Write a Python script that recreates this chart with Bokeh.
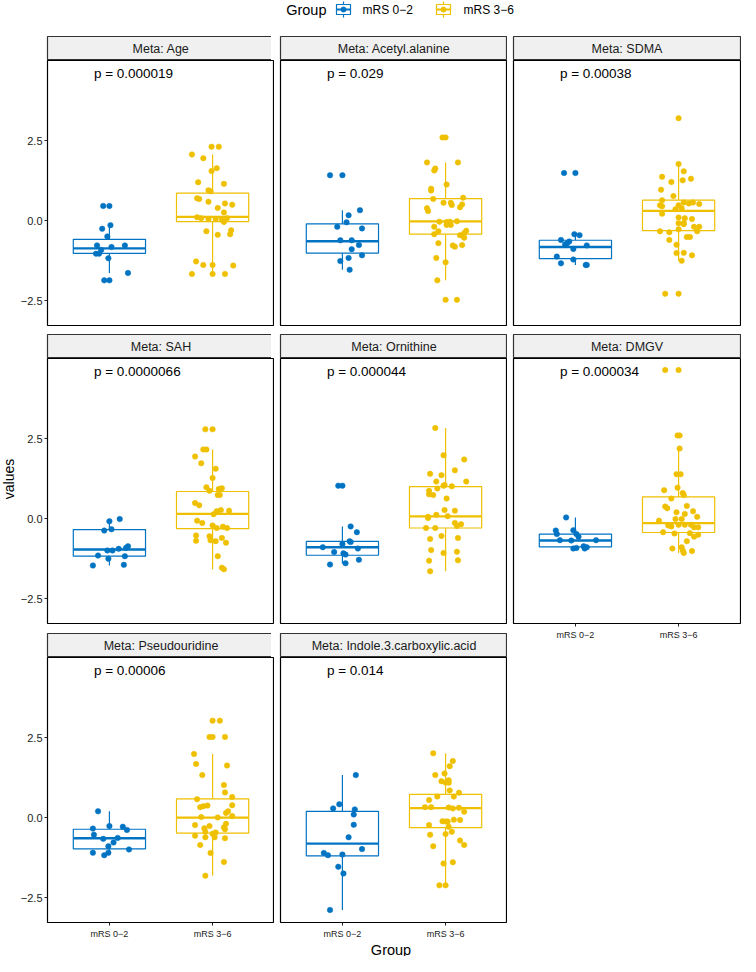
import math
from bokeh.plotting import figure
from bokeh.models import Range1d, FixedTicker
from bokeh.layouts import column, row
from bokeh.core.properties import value
from bokeh.embed import file_html
from bokeh.resources import INLINE

FONT = "Liberation Sans"

# ---------------- data ----------------
groups = ["mRS 0−2", "mRS 3−6"]
colors = ["#0073C2", "#EFC000"]
metabolites = ["Age", "Acetyl.alanine", "SDMA", "SAH", "Ornithine", "DMGV",
               "Pseudouridine", "Indole.3.carboxylic.acid"]
p_values = ["0.000019", "0.029", "0.00038", "0.0000066", "0.000044", "0.000034",
            "0.00006", "0.014"]
y_ticks = [-2.5, 0.0, 2.5]
y_tick_labels = ["−2.5", "0.0", "2.5"]

# box statistics: [lower whisker, Q1, median, Q3, upper whisker]
age_lo_y = [0.46, 0.46, -0.25, -0.14, -0.49, -0.77, -0.82, -0.77, -1.03, -1.03, -0.91, -1.17, -1.63, -1.86, -1.86]
age_lo_jit = [-0.06, 0.00, -0.07, 0.01, -0.02, -0.12, 0.02, 0.15, -0.13, -0.10, -0.08, -0.01, 0.18, -0.05, 0.00]
age_hi_y = [2.31, 2.31, 2.07, 1.95, 1.55, 1.64, 1.20, 1.15, 0.95, 0.92, 0.70, 0.68, 0.59, 0.54, 0.50, 0.40, 0.26, 0.11, 0.08, 0.05,
            0.05, 0.03, 0.08, -0.04, -0.33, -0.44, -0.42, -0.30, -1.27, -1.38, -1.38, -1.40, -1.66, -1.66, -1.66]
age_hi_jit = [-0.01, 0.06, -0.20, -0.09, -0.01, 0.04, -0.14, 0.11, -0.04, -0.02, -0.15, -0.13, -0.04, 0.12, 0.19, 0.05, 0.11, -0.15, -0.11, -0.04,
              0.03, 0.09, 0.14, 0.11, -0.06, 0.05, 0.17, 0.18, -0.16, -0.09, 0.00, 0.20, -0.20, 0.00, 0.12]
age_lo_box = [-1.63, -1.02, -0.86, -0.58, -0.14]
age_hi_box = [-1.66, -0.03, 0.12, 0.86, 2.07]

acetyl_lo_y = [1.42, 1.42, 0.33, 0.17, -0.05, -0.19, -0.24, -0.61, -0.61, -0.76, -0.89, -1.08, -1.26, -1.16, -1.53]
acetyl_lo_jit = [-0.12, 0.00, 0.17, 0.06, 0.04, -0.05, 0.19, -0.02, 0.09, 0.16, 0.09, 0.19, -0.02, 0.06, 0.07]
acetyl_hi_y = [2.60, 2.60, 1.82, 1.63, 1.57, 1.82, 1.13, 1.00, 0.94, 0.68, 0.72, 0.56, 0.56, 0.49, 0.51, 0.42, 0.30, 0.39, -0.03, -0.04,
               -0.13, -0.02, -0.13, -0.03, -0.19, -0.31, -0.39, -0.42, -0.33, -0.45, -0.53, -0.70, -0.77, -0.81, -0.76, -1.16, -1.30, -1.86, -2.47, -2.47]
acetyl_hi_jit = [-0.03, 0.00, -0.18, -0.10, -0.11, 0.12, 0.01, -0.14, -0.14, -0.12, 0.17, -0.02, 0.05, 0.06, 0.16, 0.14, -0.17, -0.18, -0.06, 0.01,
                 0.05, 0.11, 0.01, 0.04, -0.11, 0.20, 0.18, -0.11, -0.07, 0.14, 0.18, -0.07, 0.07, 0.09, 0.16, -0.09, 0.00, -0.08, 0.00, 0.11]
acetyl_lo_box = [-1.53, -1.01, -0.64, -0.10, 0.33]
acetyl_hi_box = [-1.86, -0.42, -0.02, 0.69, 1.82]

sdma_lo_y = [1.49, 1.49, -0.42, -0.45, -0.60, -0.70, -0.74, -0.65, -0.77, -0.88, -1.12, -1.21, -1.33, -1.38, -1.38]
sdma_lo_jit = [-0.11, 0.00, -0.01, 0.04, -0.14, -0.08, -0.10, -0.06, 0.11, -0.02, -0.18, -0.02, -0.14, 0.10, 0.11]
sdma_hi_y = [3.20, 1.77, 1.54, 1.37, 1.21, 1.26, 1.31, 0.97, 0.77, 0.64, 0.57, 0.54, 0.57, 0.52, 0.48, 0.45, 0.48, 0.39, 0.22, 0.36,
             0.10, 0.08, -0.08, -0.07, -0.27, -0.11, 0.05, -0.19, -0.19, -0.33, -0.33, -0.36, -0.51, -0.51, -0.60, -0.75, -1.00, -1.08, -1.01, -1.25,
             -2.28, -2.28]
sdma_hi_jit = [0.00, 0.00, 0.05, -0.16, -0.07, 0.04, 0.12, -0.17, -0.05, -0.16, 0.05, 0.10, 0.14, 0.20, -0.18, -0.16, 0.00, 0.03, -0.16, -0.03,
               0.00, 0.06, 0.00, 0.05, 0.00, 0.05, 0.13, 0.15, 0.20, 0.18, -0.18, -0.09, 0.08, 0.11, -0.09, -0.02, 0.05, 0.13, -0.02, 0.03,
               -0.13, 0.00]
sdma_lo_box = [-1.38, -1.18, -0.82, -0.61, -0.42]
sdma_hi_box = [-1.25, -0.31, 0.31, 0.64, 1.77]

sah_lo_y = [-0.08, -0.01, -0.37, -0.33, -0.86, -0.91, -0.99, -0.99, -0.94, -1.15, -1.17, -1.25, -1.46, -1.44]
sah_lo_jit = [0.00, 0.10, -0.05, 0.02, 0.18, 0.16, -0.02, 0.03, 0.09, -0.11, 0.15, -0.01, -0.16, 0.14]
sah_hi_y = [2.79, 2.79, 2.16, 2.16, 1.94, 1.73, 1.56, 1.27, 0.98, 0.93, 0.95, 0.87, 0.74, 0.74, 0.49, 0.42, 0.23, 0.27, 0.25, 0.14,
            -0.06, -0.13, -0.21, -0.29, -0.25, -0.29, -0.52, -0.69, -0.55, -0.67, -0.70, -0.60, -0.75, -1.17, -1.53, -1.58]
sah_hi_jit = [-0.07, 0.00, -0.09, -0.06, -0.17, -0.11, 0.03, 0.00, -0.06, 0.06, 0.09, -0.03, 0.05, 0.07, -0.17, -0.13, 0.04, 0.08, 0.16, 0.01,
              -0.15, -0.10, 0.00, 0.04, 0.10, 0.14, -0.16, -0.16, -0.03, -0.02, 0.03, 0.09, 0.13, 0.05, 0.09, 0.11]
sah_lo_box = [-1.46, -1.17, -0.96, -0.34, -0.01]
sah_hi_box = [-1.58, -0.31, 0.15, 0.85, 2.16]

orn_lo_y = [1.03, 1.03, -0.24, -0.42, -0.79, -0.70, -0.73, -0.89, -0.93, -1.04, -1.08, -1.12, -1.43, -1.39, -1.28]
orn_lo_jit = [-0.04, 0.00, 0.08, 0.14, 0.00, 0.07, 0.08, -0.19, 0.15, -0.08, 0.01, 0.03, -0.12, 0.03, 0.16]
orn_hi_y = [2.83, 1.98, 1.85, 1.51, 1.40, 1.36, 1.16, 1.16, 1.05, 1.01, 0.94, 1.03, 0.87, 0.74, 0.76, 0.63, 0.27, 0.25, 0.12, 0.06,
            0.02, 0.08, -0.13, -0.17, -0.23, -0.29, -0.29, -0.54, -0.60, -0.63, -0.98, -1.07, -1.03, -1.31, -1.30, -1.64]
orn_hi_jit = [-0.10, -0.02, 0.18, 0.09, -0.15, -0.04, 0.20, -0.09, -0.01, 0.06, -0.08, -0.02, -0.16, -0.12, -0.16, 0.01, -0.01, 0.09, -0.09, -0.17,
              -0.17, 0.02, 0.09, 0.15, 0.11, -0.19, -0.10, -0.04, 0.12, -0.15, -0.14, -0.02, 0.11, -0.16, 0.12, -0.15]
orn_lo_box = [-1.40, -1.14, -0.89, -0.71, -0.24]
orn_hi_box = [-1.64, -0.29, 0.07, 1.00, 2.83]

dmgv_lo_y = [0.04, -0.37, -0.48, -0.36, -0.56, -0.48, -0.67, -0.68, -0.67, -0.93, -0.91, -0.86, -0.89, -0.93]
dmgv_lo_jit = [-0.09, -0.19, -0.18, -0.02, 0.03, 0.01, -0.15, -0.04, 0.20, -0.02, 0.01, 0.08, 0.11, 0.09]
dmgv_hi_y = [4.64, 4.64, 2.60, 2.60, 2.19, 1.39, 1.39, 0.89, 0.97, 0.80, 0.74, 0.63, 0.38, 0.33, 0.40, 0.20, 0.15, 0.23, 0.06, -0.01,
             -0.01, -0.06, -0.21, -0.24, -0.19, -0.19, -0.19, -0.27, -0.27, -0.42, -0.46, -0.45, -0.56, -0.50, -0.70, -0.93, -0.89, -0.99, -1.01, -1.07]
dmgv_hi_jit = [-0.13, 0.00, -0.01, 0.01, 0.01, -0.02, 0.02, -0.14, -0.01, 0.04, 0.05, -0.07, -0.13, -0.11, 0.08, -0.02, 0.06, 0.14, 0.18, -0.03,
               0.03, -0.19, -0.10, -0.07, 0.00, 0.06, 0.12, 0.15, 0.19, -0.15, -0.04, 0.11, 0.15, 0.19, 0.08, -0.06, 0.03, 0.04, 0.13, 0.05]
dmgv_lo_box = [-0.93, -0.88, -0.68, -0.48, 0.04]
dmgv_hi_box = [-1.07, -0.43, -0.14, 0.68, 2.19]

pseudo_lo_y = [0.20, -0.34, -0.26, -0.28, -0.38, -0.53, -0.66, -0.63, -0.77, -0.89, -0.99, -1.09, -1.17, -1.09]
pseudo_lo_jit = [-0.11, -0.16, 0.00, 0.13, 0.17, -0.15, -0.06, 0.08, 0.04, -0.01, 0.19, -0.16, -0.05, -0.01]
pseudo_hi_y = [3.03, 3.03, 2.52, 2.52, 2.52, 1.99, 1.68, 1.63, 1.33, 1.02, 0.79, 0.58, 0.65, 0.33, 0.36, 0.38, 0.39, 0.20, 0.15, 0.02,
               0.01, 0.05, -0.23, -0.33, -0.26, -0.19, -0.30, -0.44, -0.50, -0.46, -0.36, -0.64, -0.61, -0.61, -0.56, -0.85, -1.10, -1.38, -1.81]
pseudo_hi_jit = [0.00, 0.07, -0.03, 0.00, 0.12, -0.18, -0.16, 0.14, -0.10, 0.11, 0.12, -0.15, 0.19, -0.12, -0.09, -0.05, 0.19, 0.15, 0.13, -0.11,
                 0.05, 0.19, -0.17, -0.08, -0.03, 0.13, 0.11, -0.07, 0.00, 0.03, 0.12, 0.12, -0.07, 0.02, -0.17, -0.12, -0.02, 0.11, -0.07]
pseudo_lo_box = [-1.17, -0.97, -0.64, -0.36, 0.20]
pseudo_hi_box = [-1.81, -0.48, 0.00, 0.59, 1.99]

indole_lo_y = [1.33, 0.29, 0.42, 0.26, 0.10, -0.22, -0.61, -0.98, -1.10, -1.17, -1.15, -1.53, -1.74, -2.88]
indole_lo_jit = [0.13, -0.09, -0.03, 0.12, 0.11, 0.11, 0.06, 0.19, -0.18, -0.14, 0.00, -0.04, 0.01, -0.12]
indole_hi_y = [2.01, 1.77, 1.38, 1.33, 1.61, 1.14, 1.10, 1.17, 1.09, 0.85, 0.66, 0.78, 0.66, 0.55, 0.33, 0.33, 0.32, 0.29, 0.31, 0.19,
               -0.11, -0.12, -0.12, -0.06, -0.07, -0.23, -0.28, -0.51, -0.44, -0.53, -0.89, -0.71, -0.85, -1.43, -1.39, -2.11, -2.11]
indole_hi_jit = [-0.12, 0.07, -0.01, -0.10, 0.04, -0.04, 0.00, 0.03, 0.03, 0.04, -0.08, 0.13, 0.08, -0.16, -0.20, -0.14, 0.03, 0.07, 0.13, 0.18,
                 -0.03, 0.00, 0.02, 0.08, 0.14, -0.16, 0.03, 0.00, 0.06, -0.15, -0.12, 0.14, 0.18, -0.02, 0.07, -0.06, 0.00]
indole_lo_box = [-2.88, -1.19, -0.81, 0.20, 1.33]
indole_hi_box = [-2.11, -0.31, 0.30, 0.73, 2.01]

panel_data = [
    (age_lo_y, age_lo_jit, age_hi_y, age_hi_jit, age_lo_box, age_hi_box),
    (acetyl_lo_y, acetyl_lo_jit, acetyl_hi_y, acetyl_hi_jit, acetyl_lo_box, acetyl_hi_box),
    (sdma_lo_y, sdma_lo_jit, sdma_hi_y, sdma_hi_jit, sdma_lo_box, sdma_hi_box),
    (sah_lo_y, sah_lo_jit, sah_hi_y, sah_hi_jit, sah_lo_box, sah_hi_box),
    (orn_lo_y, orn_lo_jit, orn_hi_y, orn_hi_jit, orn_lo_box, orn_hi_box),
    (dmgv_lo_y, dmgv_lo_jit, dmgv_hi_y, dmgv_hi_jit, dmgv_lo_box, dmgv_hi_box),
    (pseudo_lo_y, pseudo_lo_jit, pseudo_hi_y, pseudo_hi_jit, pseudo_lo_box, pseudo_hi_box),
    (indole_lo_y, indole_lo_jit, indole_hi_y, indole_hi_jit, indole_lo_box, indole_hi_box),
]

# ---------------- layout constants ----------------
FW, FH = 227, 265
STRIP = 25
GAP_X = 6
YLAB_W = 17
LEFT_AXIS = 27
LEG_H = 35
GAP1, GAP2 = 8, 9
XAX_H = 20
BOTTOM_H = 14
TOTAL_W = YLAB_W + LEFT_AXIS + 3 * FW + 2 * GAP_X + 1
X_LO, X_HI = 0.4, 2.6
Y_LO, Y_HI = -3.27, 5.0
BOX_W = 0.7
P_X, P_Y = 0.85, 4.58


def base_fig(**kw):
    p = figure(output_backend="svg", toolbar_location=None, tools="", **kw)
    p.border_fill_color = "white"
    p.background_fill_color = "white"
    return p


def strip_fig(text, left, right):
    s = base_fig(frame_width=FW, frame_height=STRIP - 1, x_range=Range1d(0, 1), y_range=Range1d(0, 1),
                 x_axis_type=None, y_axis_type=None, min_border_left=left, min_border_right=right,
                 min_border_top=1, min_border_bottom=0)
    s.background_fill_color = "#F0F0F0"
    s.outline_line_color = "#333333"
    s.outline_line_width = 1.2
    s.text(x=[0.5], y=[0.5], text=[text], text_align="center", text_baseline="middle",
           text_font=value(FONT), text_font_size=value("12.5px"), text_color="#1A1A1A")
    return s


def panel_fig(i):
    r, c = divmod(i, 3)
    lo_y, lo_jit, hi_y, hi_jit, lo_box, hi_box = panel_data[i]
    show_x = r == 2 or (r == 1 and c == 2)
    show_y = c == 0
    left = LEFT_AXIS if c == 0 else GAP_X
    right = 1 if c == 2 else 0
    bottom = XAX_H if show_x else (GAP1 if r == 0 else GAP2)
    p = base_fig(frame_width=FW, frame_height=FH, x_range=Range1d(X_LO, X_HI), y_range=Range1d(Y_LO, Y_HI),
                 x_axis_type="linear" if show_x else None, y_axis_type="linear" if show_y else None,
                 min_border_left=left, min_border_right=right, min_border_top=0, min_border_bottom=bottom)
    p.outline_line_color = "black"
    p.outline_line_width = 1.2
    p.grid.grid_line_color = None
    if show_y:
        ax = p.yaxis[0]
        ax.ticker = FixedTicker(ticks=y_ticks)
        ax.major_label_overrides = {t: l for t, l in zip(y_ticks, y_tick_labels)}
        ax.axis_line_color = None
        ax.major_tick_in = 0
        ax.major_tick_out = 3
        ax.minor_tick_line_color = None
        ax.major_tick_line_color = "#222222"
        ax.major_label_standoff = 2
        ax.major_label_text_font = FONT
        ax.major_label_text_font_size = "11px"
        ax.major_label_text_color = "#1A1A1A"
    if show_x:
        ax = p.xaxis[0]
        ax.ticker = FixedTicker(ticks=[1, 2])
        ax.major_label_overrides = {1: groups[0], 2: groups[1]}
        ax.axis_line_color = None
        ax.major_tick_in = 0
        ax.major_tick_out = 3
        ax.minor_tick_line_color = None
        ax.major_tick_line_color = "#222222"
        ax.major_label_standoff = 3
        ax.major_label_text_font = FONT
        ax.major_label_text_font_size = "9px"
        ax.major_label_text_color = "#1A1A1A"

    sets = [(lo_y, lo_jit, lo_box), (hi_y, hi_jit, hi_box)]
    for gi, (ys, jit, box) in enumerate(sets):
        xc = gi + 1
        wlo, q1, med, q3, whi = box
        col = colors[gi]
        p.segment(x0=[xc, xc], y0=[q3, q1], x1=[xc, xc], y1=[whi, wlo], line_color=col, line_width=1.2)
        p.vbar(x=[xc], width=BOX_W, bottom=[q1], top=[q3], fill_color="white", line_color=col, line_width=1.2)
        p.segment(x0=[xc - BOX_W / 2], x1=[xc + BOX_W / 2], y0=[med], y1=[med], line_color=col, line_width=2.3)
    for gi, (ys, jit, box) in enumerate(sets):
        xc = gi + 1
        col = colors[gi]
        p.scatter(x=[xc + d for d in jit], y=ys, size=5.5, fill_color=col, line_color=col, line_width=0.5)
    p.text(x=[P_X], y=[P_Y], text=["p = " + p_values[i]], text_align="left", text_baseline="middle",
           text_font=value(FONT), text_font_size=value("13.5px"), text_color="black")
    return p


cols = [[], [], []]
for i, name in enumerate(metabolites):
    r, c = divmod(i, 3)
    left = LEFT_AXIS if c == 0 else GAP_X
    right = 1 if c == 2 else 0
    cols[c].append(strip_fig("Meta: " + name, left, right))
    cols[c].append(panel_fig(i))

COL_H = 3 * STRIP + 3 * FH + GAP1 + GAP2 + XAX_H
PANEL_REGION = 3 * STRIP + 3 * FH + GAP1 + GAP2

# y-axis title
ylab = base_fig(frame_width=YLAB_W, frame_height=COL_H, x_range=Range1d(0, YLAB_W), y_range=Range1d(0, COL_H),
                x_axis_type=None, y_axis_type=None, min_border=0)
ylab.outline_line_color = None
ylab.text(x=[YLAB_W / 2], y=[COL_H - PANEL_REGION / 2], text=["values"], angle=math.pi / 2,
          text_align="center", text_baseline="middle", text_font=value(FONT),
          text_font_size=value("14px"), text_color="black")

# legend
leg = base_fig(frame_width=TOTAL_W, frame_height=LEG_H, x_range=Range1d(0, TOTAL_W), y_range=Range1d(0, LEG_H),
               x_axis_type=None, y_axis_type=None, min_border=0)
leg.outline_line_color = None
LY = LEG_H - 9
leg.text(x=[326], y=[LY], text=["Group"], text_align="right", text_baseline="middle",
         text_font=value(FONT), text_font_size=value("14.5px"), text_color="black")
key_x = [343, 443]
lab_x = [362, 463]
for gi in range(2):
    kx = key_x[gi]
    col = colors[gi]
    leg.segment(x0=[kx], x1=[kx], y0=[LY - 8], y1=[LY + 8], line_color=col, line_width=1.2)
    leg.rect(x=[kx], y=[LY], width=14, height=10, fill_color="white", line_color=col, line_width=1.2)
    leg.segment(x0=[kx - 7], x1=[kx + 7], y0=[LY], y1=[LY], line_color=col, line_width=2)
    leg.scatter(x=[kx], y=[LY], size=5, fill_color=col, line_color=col)
    leg.text(x=[lab_x[gi]], y=[LY], text=[groups[gi]], text_align="left", text_baseline="middle",
             text_font=value(FONT), text_font_size=value("12px"), text_color="black")

# x-axis title
bot = base_fig(frame_width=TOTAL_W, frame_height=BOTTOM_H, x_range=Range1d(0, TOTAL_W), y_range=Range1d(0, BOTTOM_H),
               x_axis_type=None, y_axis_type=None, min_border=0)
bot.outline_line_color = None
bot.text(x=[YLAB_W + LEFT_AXIS + (3 * FW + 2 * GAP_X) / 2], y=[BOTTOM_H / 2], text=["Group"],
         text_align="center", text_baseline="middle", text_font=value(FONT),
         text_font_size=value("14.5px"), text_color="black")

layout = column(leg, row(ylab, column(*cols[0]), column(*cols[1]), column(*cols[2])), bot)

with open("out.html", "w") as f:
    f.write(file_html(layout, INLINE))
